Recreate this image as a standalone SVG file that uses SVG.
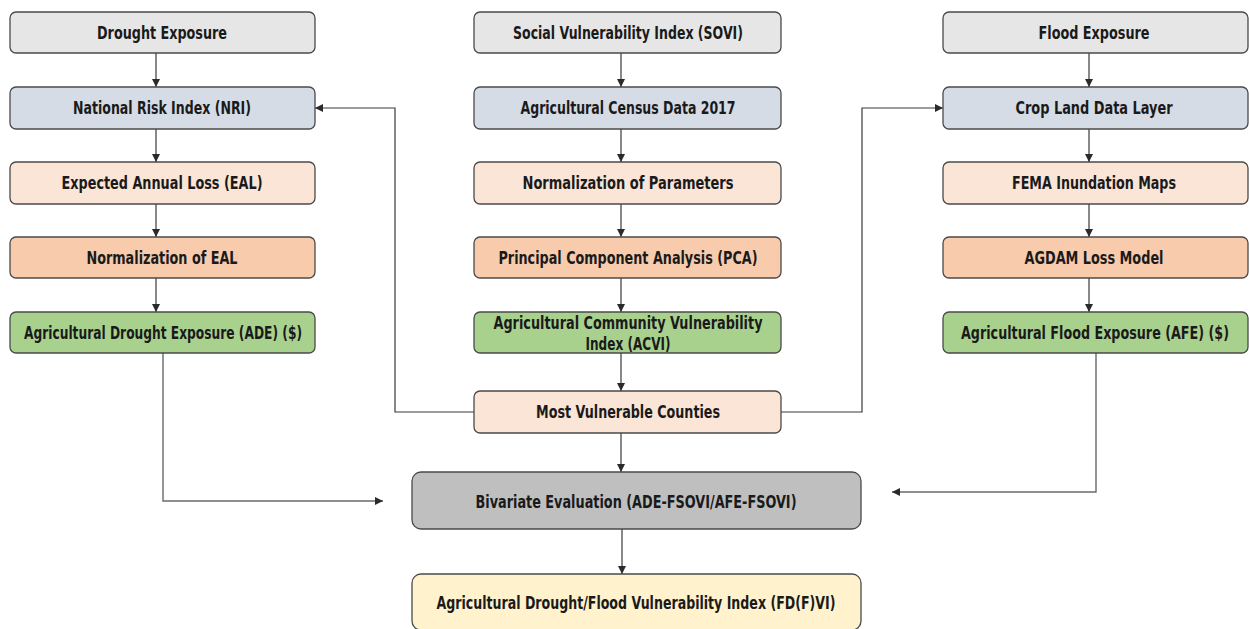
<svg xmlns="http://www.w3.org/2000/svg" width="1249" height="629" viewBox="0 0 1249 629">
<defs>
<style>
.box{stroke:#4a4a4a;stroke-width:1.3}
.g{fill:#e7e6e6}.b{fill:#d6dce5}.lp{fill:#fbe5d6}.p{fill:#f8cbad}.gr{fill:#a9d18e}.dg{fill:#bfbfbf}.y{fill:#fff2cc}
text{font-family:"DejaVu Sans Condensed","DejaVu Sans","Liberation Sans",sans-serif;font-weight:bold;font-size:17px;fill:#1a1a1a;text-anchor:middle;dominant-baseline:central}
.c{fill:none;stroke:#3a3a3a;stroke-width:1.2}
.cl{fill:none;stroke:#6a6a6a;stroke-width:1.4}
</style>
<marker id="ah" viewBox="0 0 10 10" refX="10" refY="5" markerWidth="8" markerHeight="8" markerUnits="userSpaceOnUse" orient="auto"><path d="M0,0 L10,5 L0,10 z" fill="#2a2a2a"/></marker>
</defs>
<rect width="1249" height="629" fill="#ffffff"/>
<g id="connectors">
<path class="c" d="M156,53 V87" marker-end="url(#ah)"/>
<path class="c" d="M156,129 V162" marker-end="url(#ah)"/>
<path class="c" d="M156,204 V237" marker-end="url(#ah)"/>
<path class="c" d="M156,278 V312" marker-end="url(#ah)"/>
<path class="c" d="M621,53 V87" marker-end="url(#ah)"/>
<path class="c" d="M621,129 V162" marker-end="url(#ah)"/>
<path class="c" d="M621,204 V237" marker-end="url(#ah)"/>
<path class="c" d="M621,278 V312" marker-end="url(#ah)"/>
<path class="c" d="M621,353 V391" marker-end="url(#ah)"/>
<path class="c" d="M1089,53 V87" marker-end="url(#ah)"/>
<path class="c" d="M1089,129 V162" marker-end="url(#ah)"/>
<path class="c" d="M1089,204 V237" marker-end="url(#ah)"/>
<path class="c" d="M1089,278 V312" marker-end="url(#ah)"/>
<path class="c" d="M474,412 H395 V108 H315" marker-end="url(#ah)"/>
<path class="c" d="M781,412 H862 V108 H943" marker-end="url(#ah)"/>
<path class="cl" d="M163,353 V501 H383" marker-end="url(#ah)"/>
<path class="cl" d="M1096,353 V492 H892" marker-end="url(#ah)"/>
<path class="c" d="M621,433 V472" marker-end="url(#ah)"/>
<path class="c" d="M622,529 V574" marker-end="url(#ah)"/>
</g>
<g id="drought-exposure"><rect class="box g" x="10" y="12" width="305" height="41" rx="6"/><text x="162" y="33" textLength="130" lengthAdjust="spacingAndGlyphs">Drought Exposure</text></g>
<g id="nri"><rect class="box b" x="10" y="87" width="305" height="42" rx="6"/><text x="162" y="108" textLength="178" lengthAdjust="spacingAndGlyphs">National Risk Index (NRI)</text></g>
<g id="eal"><rect class="box lp" x="10" y="162" width="305" height="42" rx="6"/><text x="162" y="183" textLength="201" lengthAdjust="spacingAndGlyphs">Expected Annual Loss (EAL)</text></g>
<g id="norm-eal"><rect class="box p" x="10" y="237" width="305" height="41" rx="6"/><text x="162" y="258" textLength="151" lengthAdjust="spacingAndGlyphs">Normalization of EAL</text></g>
<g id="ade"><rect class="box gr" x="10" y="312" width="305" height="41" rx="6"/><text x="163" y="333" textLength="278" lengthAdjust="spacingAndGlyphs">Agricultural Drought Exposure (ADE) ($)</text></g>

<g id="sovi"><rect class="box g" x="474" y="12" width="307" height="41" rx="6"/><text x="628" y="33" textLength="230" lengthAdjust="spacingAndGlyphs">Social Vulnerability Index (SOVI)</text></g>
<g id="census"><rect class="box b" x="474" y="87" width="307" height="42" rx="6"/><text x="628" y="108" textLength="215" lengthAdjust="spacingAndGlyphs">Agricultural Census Data 2017</text></g>
<g id="norm-params"><rect class="box lp" x="474" y="162" width="307" height="42" rx="6"/><text x="628" y="183" textLength="211" lengthAdjust="spacingAndGlyphs">Normalization of Parameters</text></g>
<g id="pca"><rect class="box p" x="474" y="237" width="307" height="41" rx="6"/><text x="628" y="258" textLength="259" lengthAdjust="spacingAndGlyphs">Principal Component Analysis (PCA)</text></g>
<g id="acvi"><rect class="box gr" x="474" y="312" width="307" height="41" rx="6"/><text x="628" y="323" textLength="269" lengthAdjust="spacingAndGlyphs">Agricultural Community Vulnerability</text><text x="628" y="344" textLength="85" lengthAdjust="spacingAndGlyphs">Index (ACVI)</text></g>
<g id="most-vulnerable"><rect class="box lp" x="474" y="391" width="307" height="42" rx="6"/><text x="628" y="412" textLength="184" lengthAdjust="spacingAndGlyphs">Most Vulnerable Counties</text></g>

<g id="flood-exposure"><rect class="box g" x="943" y="12" width="305" height="41" rx="6"/><text x="1094" y="33" textLength="111" lengthAdjust="spacingAndGlyphs">Flood Exposure</text></g>
<g id="cdl"><rect class="box b" x="943" y="87" width="305" height="42" rx="6"/><text x="1094" y="108" textLength="157" lengthAdjust="spacingAndGlyphs">Crop Land Data Layer</text></g>
<g id="fema"><rect class="box lp" x="943" y="162" width="305" height="42" rx="6"/><text x="1094" y="183" textLength="164" lengthAdjust="spacingAndGlyphs">FEMA Inundation Maps</text></g>
<g id="agdam"><rect class="box p" x="943" y="237" width="305" height="41" rx="6"/><text x="1094" y="258" textLength="139" lengthAdjust="spacingAndGlyphs">AGDAM Loss Model</text></g>
<g id="afe"><rect class="box gr" x="943" y="312" width="305" height="41" rx="6"/><text x="1095" y="333" textLength="268" lengthAdjust="spacingAndGlyphs">Agricultural Flood Exposure (AFE) ($)</text></g>

<g id="bivariate"><rect class="box dg" x="412" y="472" width="449" height="57" rx="9"/><text x="636" y="502" textLength="321" lengthAdjust="spacingAndGlyphs">Bivariate Evaluation (ADE-FSOVI/AFE-FSOVI)</text></g>
<g id="fdfvi"><rect class="box y" x="412" y="574" width="449" height="56" rx="9"/><text x="636" y="603" textLength="399" lengthAdjust="spacingAndGlyphs">Agricultural Drought/Flood Vulnerability Index (FD(F)VI)</text></g>
</svg>
